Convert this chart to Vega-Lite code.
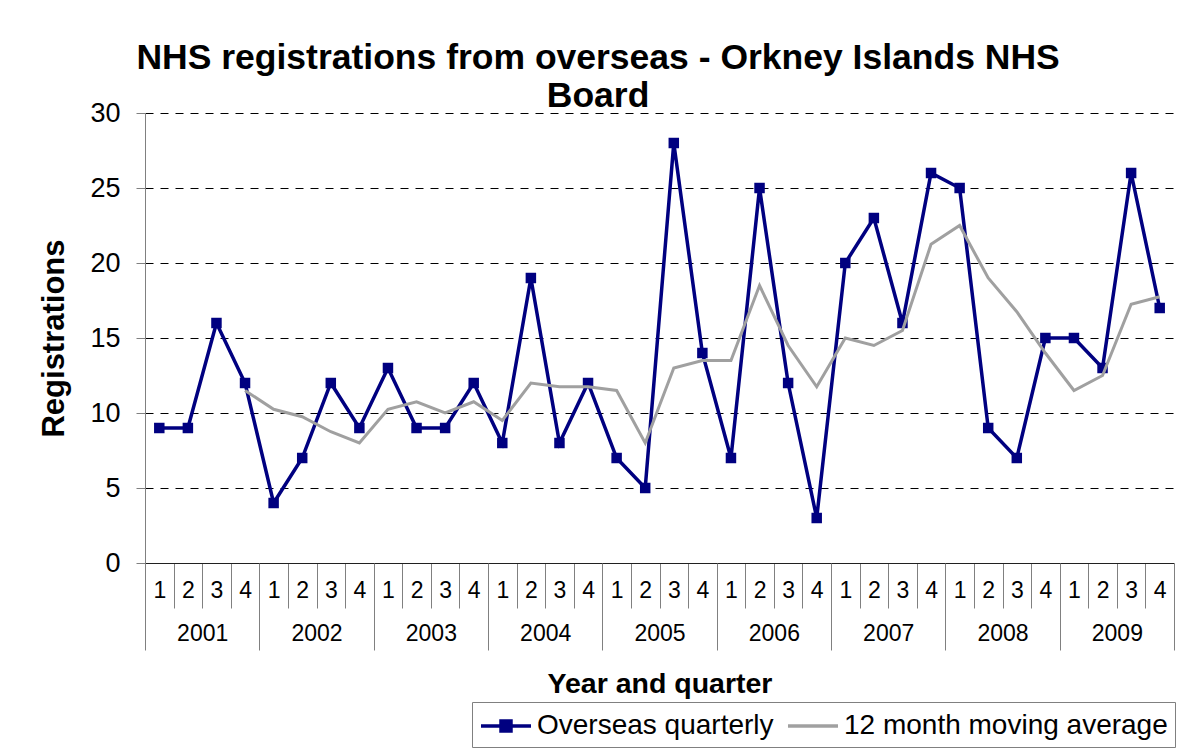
{
  "$schema": "https://vega.github.io/schema/vega-lite/v6.json",
  "width": 1029,
  "height": 450,
  "autosize": {"type": "none"},
  "padding": {"left": 145, "top": 113, "right": 13, "bottom": 190},
  "background": "white",
  "config": {
    "font": "Liberation Sans",
    "view": {"stroke": null}
  },
  "title": {
    "text": ["NHS registrations from overseas - Orkney Islands NHS", "Board"],
    "fontSize": 35.5,
    "fontWeight": "bold",
    "color": "#000000",
    "anchor": "middle",
    "frame": "bounds",
    "lineHeight": 38,
    "offset": -15,
    "dx": -37
  },
  "data": {
    "values": [
      {"year": 2001, "q": 1, "series": "Overseas quarterly", "value": 9},
      {"year": 2001, "q": 2, "series": "Overseas quarterly", "value": 9},
      {"year": 2001, "q": 3, "series": "Overseas quarterly", "value": 16},
      {"year": 2001, "q": 4, "series": "Overseas quarterly", "value": 12},
      {"year": 2002, "q": 1, "series": "Overseas quarterly", "value": 4},
      {"year": 2002, "q": 2, "series": "Overseas quarterly", "value": 7},
      {"year": 2002, "q": 3, "series": "Overseas quarterly", "value": 12},
      {"year": 2002, "q": 4, "series": "Overseas quarterly", "value": 9},
      {"year": 2003, "q": 1, "series": "Overseas quarterly", "value": 13},
      {"year": 2003, "q": 2, "series": "Overseas quarterly", "value": 9},
      {"year": 2003, "q": 3, "series": "Overseas quarterly", "value": 9},
      {"year": 2003, "q": 4, "series": "Overseas quarterly", "value": 12},
      {"year": 2004, "q": 1, "series": "Overseas quarterly", "value": 8},
      {"year": 2004, "q": 2, "series": "Overseas quarterly", "value": 19},
      {"year": 2004, "q": 3, "series": "Overseas quarterly", "value": 8},
      {"year": 2004, "q": 4, "series": "Overseas quarterly", "value": 12},
      {"year": 2005, "q": 1, "series": "Overseas quarterly", "value": 7},
      {"year": 2005, "q": 2, "series": "Overseas quarterly", "value": 5},
      {"year": 2005, "q": 3, "series": "Overseas quarterly", "value": 28},
      {"year": 2005, "q": 4, "series": "Overseas quarterly", "value": 14},
      {"year": 2006, "q": 1, "series": "Overseas quarterly", "value": 7},
      {"year": 2006, "q": 2, "series": "Overseas quarterly", "value": 25},
      {"year": 2006, "q": 3, "series": "Overseas quarterly", "value": 12},
      {"year": 2006, "q": 4, "series": "Overseas quarterly", "value": 3},
      {"year": 2007, "q": 1, "series": "Overseas quarterly", "value": 20},
      {"year": 2007, "q": 2, "series": "Overseas quarterly", "value": 23},
      {"year": 2007, "q": 3, "series": "Overseas quarterly", "value": 16},
      {"year": 2007, "q": 4, "series": "Overseas quarterly", "value": 26},
      {"year": 2008, "q": 1, "series": "Overseas quarterly", "value": 25},
      {"year": 2008, "q": 2, "series": "Overseas quarterly", "value": 9},
      {"year": 2008, "q": 3, "series": "Overseas quarterly", "value": 7},
      {"year": 2008, "q": 4, "series": "Overseas quarterly", "value": 15},
      {"year": 2009, "q": 1, "series": "Overseas quarterly", "value": 15},
      {"year": 2009, "q": 2, "series": "Overseas quarterly", "value": 13},
      {"year": 2009, "q": 3, "series": "Overseas quarterly", "value": 26},
      {"year": 2009, "q": 4, "series": "Overseas quarterly", "value": 17},
      {"year": 2001, "q": 4, "series": "12 month moving average", "value": 11.5},
      {"year": 2002, "q": 1, "series": "12 month moving average", "value": 10.25},
      {"year": 2002, "q": 2, "series": "12 month moving average", "value": 9.75},
      {"year": 2002, "q": 3, "series": "12 month moving average", "value": 8.75},
      {"year": 2002, "q": 4, "series": "12 month moving average", "value": 8},
      {"year": 2003, "q": 1, "series": "12 month moving average", "value": 10.25},
      {"year": 2003, "q": 2, "series": "12 month moving average", "value": 10.75},
      {"year": 2003, "q": 3, "series": "12 month moving average", "value": 10},
      {"year": 2003, "q": 4, "series": "12 month moving average", "value": 10.75},
      {"year": 2004, "q": 1, "series": "12 month moving average", "value": 9.5},
      {"year": 2004, "q": 2, "series": "12 month moving average", "value": 12},
      {"year": 2004, "q": 3, "series": "12 month moving average", "value": 11.75},
      {"year": 2004, "q": 4, "series": "12 month moving average", "value": 11.75},
      {"year": 2005, "q": 1, "series": "12 month moving average", "value": 11.5},
      {"year": 2005, "q": 2, "series": "12 month moving average", "value": 8},
      {"year": 2005, "q": 3, "series": "12 month moving average", "value": 13},
      {"year": 2005, "q": 4, "series": "12 month moving average", "value": 13.5},
      {"year": 2006, "q": 1, "series": "12 month moving average", "value": 13.5},
      {"year": 2006, "q": 2, "series": "12 month moving average", "value": 18.5},
      {"year": 2006, "q": 3, "series": "12 month moving average", "value": 14.5},
      {"year": 2006, "q": 4, "series": "12 month moving average", "value": 11.75},
      {"year": 2007, "q": 1, "series": "12 month moving average", "value": 15},
      {"year": 2007, "q": 2, "series": "12 month moving average", "value": 14.5},
      {"year": 2007, "q": 3, "series": "12 month moving average", "value": 15.5},
      {"year": 2007, "q": 4, "series": "12 month moving average", "value": 21.25},
      {"year": 2008, "q": 1, "series": "12 month moving average", "value": 22.5},
      {"year": 2008, "q": 2, "series": "12 month moving average", "value": 19},
      {"year": 2008, "q": 3, "series": "12 month moving average", "value": 16.75},
      {"year": 2008, "q": 4, "series": "12 month moving average", "value": 14},
      {"year": 2009, "q": 1, "series": "12 month moving average", "value": 11.5},
      {"year": 2009, "q": 2, "series": "12 month moving average", "value": 12.5},
      {"year": 2009, "q": 3, "series": "12 month moving average", "value": 17.25},
      {"year": 2009, "q": 4, "series": "12 month moving average", "value": 17.75}
    ]
  },
  "transform": [
    {"calculate": "(datum.year - 2001) * 4 + datum.q - 0.5", "as": "t"}
  ],
  "encoding": {
    "y": {
      "field": "value",
      "type": "quantitative",
      "scale": {"domain": [0, 30], "nice": false, "zero": true},
      "axis": {
        "values": [0, 5, 10, 15, 20, 25, 30],
        "title": "Registrations",
        "titleFontSize": 31,
        "titleFontWeight": "bold",
        "titleColor": "#000000",
        "titlePadding": 19,
        "labelFontSize": 27,
        "labelColor": "#000000",
        "labelPadding": 16,
        "tickSize": 9,
        "tickColor": "#808080",
        "domainColor": "#808080",
        "gridColor": "#000000",
        "gridDash": [8, 7],
        "gridWidth": 1
      }
    },
    "color": {
      "field": "series",
      "type": "nominal",
      "scale": {
        "domain": ["Overseas quarterly", "12 month moving average"],
        "range": ["#000080", "#A0A0A0"]
      },
      "legend": {
        "orient": "none",
        "legendX": 327,
        "legendY": 589,
        "direction": "horizontal",
        "title": null,
        "strokeColor": "#808080",
        "padding": 7,
        "labelFontSize": 28,
        "labelColor": "#000000",
        "labelLimit": 600,
        "labelOffset": 14,
        "symbolSize": 900,
        "symbolOffset": 10,
        "symbolStrokeWidth": 3.5,
        "columnPadding": 6,
        "encode": {
          "symbols": {
            "update": {
              "shape": {"signal": "datum.value === 'Overseas quarterly' ? 'M-1.667,0H1.667M-0.333,-0.333H0.333V0.333H-0.333Z' : 'M-1.667,0H1.667'"},
              "fill": {"signal": "datum.value === 'Overseas quarterly' ? '#000080' : 'transparent'"}
            }
          }
        }
      }
    }
  },
  "layer": [
    {
      "transform": [{"filter": "datum.series === 'Overseas quarterly'"}],
      "mark": {
        "type": "line",
        "strokeWidth": 3.5,
        "point": {"shape": "square", "size": 110, "filled": true, "color": "#000080", "opacity": 1}
      },
      "encoding": {
        "x": {
          "field": "t",
          "type": "quantitative",
          "scale": {"domain": [0, 36], "nice": false, "zero": false},
          "axis": {
            "orient": "bottom",
            "values": [0,1,2,3,4,5,6,7,8,9,10,11,12,13,14,15,16,17,18,19,20,21,22,23,24,25,26,27,28,29,30,31,32,33,34,35],
            "labelExpr": "'' + (datum.value % 4 + 1)",
            "labelOffset": 14.3,
            "labelFlush": false,
            "labelOverlap": false,
            "labelAlign": "center",
            "labelBaseline": "middle",
            "labelFontSize": 23,
            "labelColor": "#000000",
            "labelPadding": -18,
            "tickSize": 45,
            "tickColor": "#808080",
            "domainColor": "#202020",
            "grid": false,
            "title": null
          }
        }
      }
    },
    {
      "transform": [{"filter": "datum.series === '12 month moving average'"}],
      "mark": {"type": "line", "strokeWidth": 3},
      "encoding": {
        "x": {
          "field": "t",
          "type": "quantitative",
          "scale": {"domain": [0, 36], "nice": false, "zero": false},
          "axis": {
            "orient": "bottom",
            "values": [0, 4, 8, 12, 16, 20, 24, 28, 32, 36],
            "labelExpr": "datum.value < 36 ? '' + (2001 + datum.value / 4) : ''",
            "labelOffset": 57.2,
            "labelFlush": false,
            "labelOverlap": false,
            "labelAlign": "center",
            "labelBaseline": "middle",
            "labelFontSize": 23,
            "labelColor": "#000000",
            "labelPadding": -17,
            "tickSize": 87,
            "tickColor": "#808080",
            "domain": false,
            "grid": false,
            "title": "Year and quarter",
            "titleFontSize": 28.5,
            "titleFontWeight": "bold",
            "titleColor": "#000000",
            "titlePadding": 19
          }
        }
      }
    }
  ],
  "resolve": {"axis": {"x": "independent"}}
}
